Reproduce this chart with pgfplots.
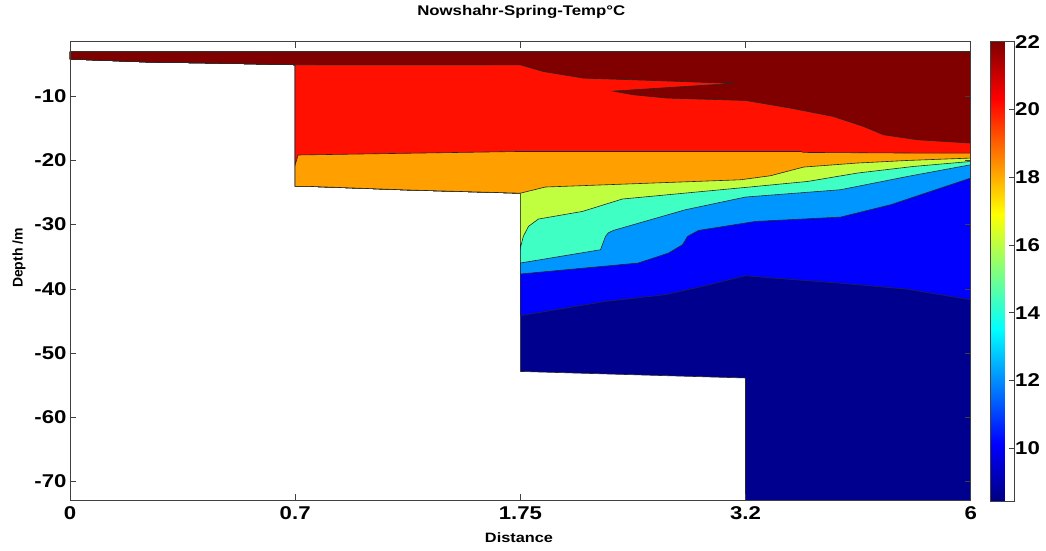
\documentclass[border=0pt]{standalone}
\usepackage{pgfplots}
\pgfplotsset{compat=1.18}
\usepackage{fontspec}
\setmainfont{Liberation Sans}
\newfontfamily\stretchfont{Liberation Sans}[FakeStretch=1.2]
\newcommand\tickfnt{\stretchfont\bfseries\fontsize{18.5}{20}\selectfont}
\definecolor{cDR}{RGB}{128,0,0}
\definecolor{cR}{RGB}{255,16,0}
\definecolor{cO}{RGB}{255,160,0}
\definecolor{cYG}{RGB}{191,255,64}
\definecolor{cC}{RGB}{64,255,196}
\definecolor{cLB}{RGB}{0,150,255}
\definecolor{cB}{RGB}{0,0,255}
\definecolor{cDB}{RGB}{0,0,143}
\begin{document}
\begin{tikzpicture}
\useasboundingbox (-70pt,-50pt) rectangle (976pt,500pt);
\begin{axis}[
  at={(0,0)}, anchor=south west,
  scale only axis, width=900.7pt, height=458.3pt,
  xmin=0, xmax=4, ymin=-72.9, ymax=-1.5,
  xtick={0,1,2,3,4}, xticklabels={0,0.7,1.75,3.2,6},
  ytick={-70,-60,-50,-40,-30,-20,-10},
  yticklabels={-70,-60,-50,-40,-30,-20,-10},
  tick align=inside, major tick length=6pt,
  tick style={black!75, line width=0.6pt},
  axis line style={black!75, line width=0.8pt},
  axis on top,
  ticklabel style={font=\tickfnt},
  xticklabel style={yshift=-3pt},
  title={Nowshahr-Spring-Temp°C},
  title style={font=\stretchfont\bfseries\fontsize{14}{16}\selectfont, at={(axis description cs:0.501,1.0517)}, anchor=center},
  xlabel={Distance},
  xlabel style={font=\stretchfont\bfseries\fontsize{13.6}{15}\selectfont, at={(axis description cs:0.4985,-0.083)}, anchor=center},
  ylabel={Depth /m},
  ylabel style={font=\bfseries\fontsize{14}{16}\selectfont, at={(axis description cs:-0.0566,0.528)}, anchor=center},
  colorbar, colormap/jet, point meta min=8.42, point meta max=22,
  colorbar style={
    at={(parent axis.north east)}, anchor=north west, xshift=10.8pt,
    scale only axis, width=24pt, height=460pt,
    ytick={10,12,14,16,18,20,22},
    yticklabels={10,12,14,16,18,20,22},
    ytick pos=right, tick align=inside, major tick length=5pt,
    tick style={black!75, line width=0.6pt},
    axis line style={black!75, line width=0.8pt},
    yticklabel style={font=\tickfnt, inner sep=1pt},
  },
]
% dark blue: whole water domain
\addplot[fill=cDB, draw=black!85, line width=0.6pt] coordinates {
 (0,-3.1) (4,-3.1) (4,-76) (3,-76) (3,-53.89) (2,-52.87) (2,-25.1) (1.5,-24.6) (1.07,-24.05) (1,-24.05)
 (1,-5.09) (0.636,-4.83) (0.356,-4.68) (0,-4.21) (0,-3.1)};
% blue
\addplot[fill=cB, draw=black!85, line width=0.6pt] coordinates {
 (0,-3.1) (4,-3.1) (4,-41.70) (3.711,-40.03) (3.413,-39.10) (3.12,-38.32) (3.0,-37.96) (2.822,-39.52)
 (2.644,-40.92) (2.378,-41.96) (2.0,-44.19) (2,-25.1) (1.5,-24.6) (1.07,-24.05) (1,-24.05)
 (1,-5.09) (0.636,-4.83) (0.356,-4.68) (0,-4.21) (0,-3.1)};
% light blue
\addplot[fill=cLB, draw=black!85, line width=0.6pt] coordinates {
 (0,-3.1) (4,-3.1) (4,-22.74) (3.867,-24.30) (3.644,-26.90) (3.422,-28.82) (3.044,-29.50) (2.791,-30.90)
 (2.742,-31.84) (2.72,-33.13) (2.658,-34.42) (2.524,-35.98) (2,-37.69) (2,-25.1) (1.5,-24.6) (1.07,-24.05) (1,-24.05)
 (1,-5.09) (0.636,-4.83) (0.356,-4.68) (0,-4.21) (0,-3.1)};
% cyan
\addplot[fill=cC, draw=black!85, line width=0.6pt] coordinates {
 (0,-3.1) (4,-3.1) (4,-20.67) (3.72,-22.49) (3.422,-24.56) (3.0,-25.70) (2.733,-27.68) (2.413,-30.90)
 (2.39,-31.3) (2.378,-31.84) (2.356,-33.91) (2,-35.98) (2,-25.1) (1.5,-24.6) (1.07,-24.05) (1,-24.05)
 (1,-5.09) (0.636,-4.83) (0.356,-4.68) (0,-4.21) (0,-3.1)};
% yellow-green
\addplot[fill=cYG, draw=black!85, line width=0.6pt] coordinates {
 (0,-3.1) (4,-3.1) (4,-20.16) (3.747,-20.93) (3.498,-21.96) (3.276,-23.27) (3.0,-24.2) (2.453,-26.01)
 (2.276,-27.94) (2.08,-29.13) (2.036,-30.28) (2.013,-31.84) (2,-33.64) (2,-25.1) (1.5,-24.6) (1.07,-24.05) (1,-24.05)
 (1,-5.09) (0.636,-4.83) (0.356,-4.68) (0,-4.21) (0,-3.1)};
% orange
\addplot[fill=cO, draw=black!85, line width=0.6pt] coordinates {
 (0,-3.1) (4,-3.1) (4,-19.63) (3.72,-20.0) (3.498,-20.40) (3.258,-21.03) (3.111,-22.38) (2.978,-23.01)
 (2.111,-24.14) (2,-25.1) (1.5,-24.6) (1.07,-24.05) (1,-24.05)
 (1,-5.09) (0.636,-4.83) (0.356,-4.68) (0,-4.21) (0,-3.1)};
% red
\addplot[fill=cR, draw=black!85, line width=0.6pt] coordinates {
 (0,-3.1) (4,-3.1) (4,-18.85) (3.747,-18.85) (3.258,-18.75) (3.244,-18.60) (2,-18.6) (1.013,-19.15) (1,-20.67)
 (1,-5.09) (0.636,-4.83) (0.356,-4.68) (0,-4.21) (0,-3.1)};
% dark red
\addplot[fill=cDR, draw=black!85, line width=0.6pt] coordinates {
 (0,-3.1) (4,-3.1) (4,-17.29) (3.764,-16.78) (3.613,-16.0) (3.524,-14.70) (3.391,-13.15) (3.2,-11.84)
 (3.0,-10.65) (2.653,-10.28) (2.578,-10.03) (2.502,-9.77) (2.413,-9.2) (2.7,-8.55) (2.95,-8.0)
 (2.6,-7.55) (2.28,-7.17) (2.102,-6.14) (2.0,-5.1)
 (1,-5.09) (0.636,-4.83) (0.356,-4.68) (0,-4.21) (0,-3.1)};
\end{axis}
\end{tikzpicture}
\end{document}
